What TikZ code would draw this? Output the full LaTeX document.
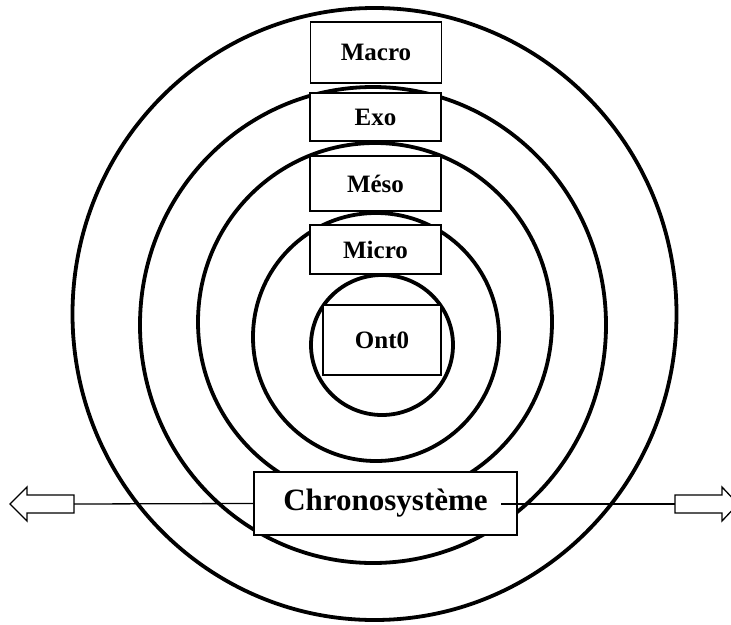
\documentclass[tikz,border=0pt]{standalone}
\usepackage{fontspec}
\setmainfont{Liberation Serif}
\tikzset{
  ring/.style={line width=3.8pt},
  box/.style={draw, line width=1.8pt, fill=white, inner sep=0pt, minimum width=131pt,
    font=\bfseries\fontsize{25}{30}\selectfont},
  link/.style={line width=1.3pt},
  blockarrow/.style={draw, line width=1.3pt, fill=white, line join=miter}
}
\begin{document}
\begin{tikzpicture}[x=1pt,y=-1pt]
      \useasboundingbox (0,0) rectangle (731,624);
      \draw[ring] (374.5,314) ellipse [x radius=302pt, y radius=306pt];
      \draw[ring] (373,325) ellipse [x radius=233pt, y radius=238pt];
      \draw[ring] (375,322) ellipse [x radius=177pt, y radius=179pt];
      \draw[ring] (376,337) ellipse [x radius=123pt, y radius=124pt];
      \draw[ring] (382,345) ellipse [x radius=71pt, y radius=70pt];
      \draw
        (376,52.5) node[box, minimum height=61pt] (macro){Macro}
        (375.5,117) node[box, minimum height=48pt] (exo){Exo}
        (375.5,183.5) node[box, minimum height=55pt] (meso){Méso}
        (375.5,249.5) node[box, minimum height=49pt] (micro){Micro}
        (382,340) node[box, minimum width=118pt, minimum height=70pt] (onto){Ont0}
        (385.5,503.5) node[box, minimum width=263pt, minimum height=63pt,
          font=\bfseries\fontsize{31}{36}\selectfont] (chrono){Chronosystème};
      \coordinate (ltip) at (10,504);
      \coordinate (lend) at (74,504);
      \coordinate (rtip) at (738,504);
      \coordinate (rend) at (675,504);
      \coordinate (cdash) at (501,504);
      \draw[blockarrow] (ltip) -- ++(17,-17) -- ++(0,8) -- ++(47,0) -- ++(0,18)
        -- ++(-47,0) -- ++(0,8) -- cycle;
      \draw[blockarrow] (rtip) -- ++(-16,-17) -- ++(0,8) -- ++(-47,0) -- ++(0,18)
        -- ++(47,0) -- ++(0,8) -- cycle;
      \begin{scope}[link]
        \draw (lend) to (chrono.west);
        \draw (cdash) to (rend);
      \end{scope}
    \end{tikzpicture}
\end{document}
